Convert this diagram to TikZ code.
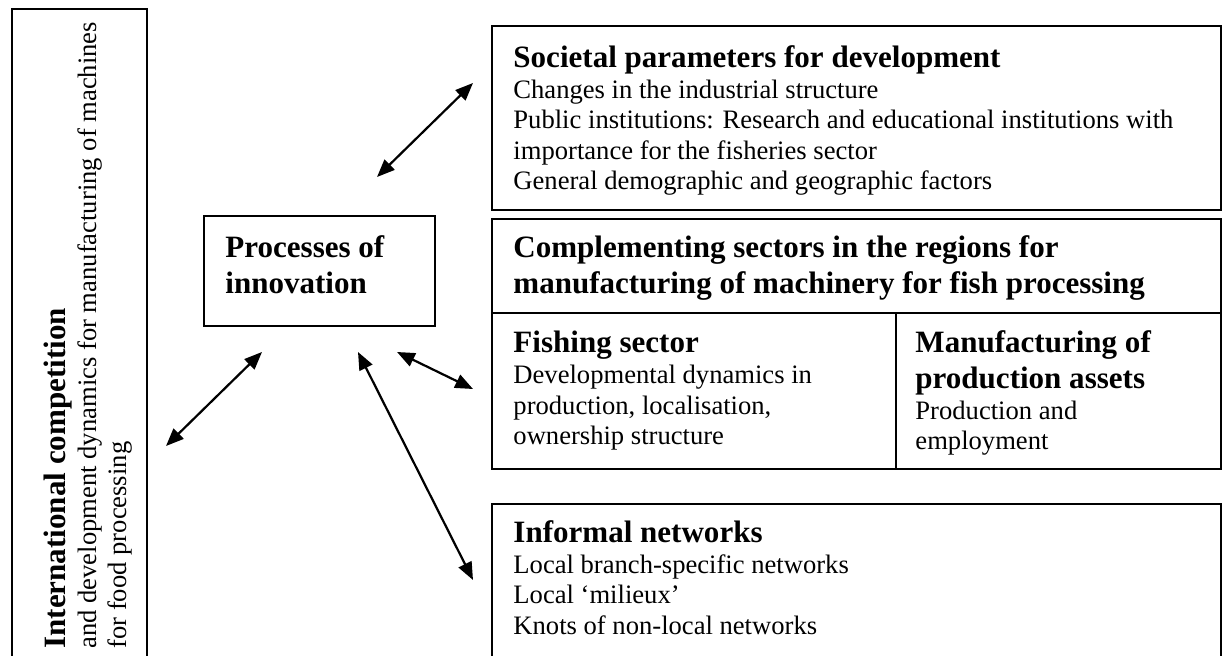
\documentclass[tikz,border=0pt]{standalone}
\usepackage{fontspec}
\setmainfont{Liberation Serif}
\usetikzlibrary{arrows.meta,fit,calc}
% invisible strut that fixes the height of a first line
\newcommand\firstline{\rule{0pt}{12pt}}
\newcommand\headfont{\fontsize{14}{16.1}\selectfont\bfseries}
\begin{document}
\begin{tikzpicture}[x=0.451pt,y=-0.451pt,
  frame/.style={draw, line width=1pt, inner sep=0pt, outer sep=0pt},
  body/.style={inner sep=0pt, anchor=north west, align=left,
    font=\fontsize{12}{13.8}\selectfont},
  headbody/.style={inner sep=0pt, anchor=north west, align=left,
    font=\fontsize{14}{16.1}\selectfont\bfseries},
  link/.style={line width=1pt,
    {Triangle[length=8pt,width=6.4pt]}-{Triangle[length=8pt,width=6.4pt]}}]
\clip (0,0) rectangle (1222,656);

% left column: international context
\node[frame, fit={(12,9) (147,700)}] (intl) {};
\node[body, rotate=90] (intlt) at (38.4,649)
  {\firstline{\headfont International competition}\\
   and development dynamics for manufacturing of machines\\
   for food processing};

% central box
\node[frame, fit={(204,216) (435,326)}] (proc) {};
\node[headbody] (proct) at ($(proc.north west)+(21,14.4)$)
  {\firstline Processes of\\ innovation};

% societal parameters
\node[frame, fit={(492,26) (1221,210)}] (soc) {};
\node[body] (soct) at ($(soc.north west)+(21,14.4)$)
  {\firstline{\headfont Societal parameters for development}\\
   Changes in the industrial structure\\
   Public institutions: Research and educational institutions with\\
   importance for the fisheries sector\\
   General demographic and geographic factors};

% complementing sectors, split into two parts below the heading
\node[frame, fit={(492,219) (1221,313)}] (comp) {};
\node[headbody] (compt) at ($(comp.north west)+(21,11.4)$)
  {\firstline Complementing sectors in the regions for\\
   manufacturing of machinery for fish processing};
\node[frame, fit={(492,313) (896,469)}] (fish) {};
\node[body] (fisht) at ($(fish.north west)+(21,12.9)$)
  {\firstline{\headfont Fishing sector}\\
   Developmental dynamics in\\
   production, localisation,\\
   ownership structure};
\node[frame, fit={(896,313) (1221,469)}] (manuf) {};
\node[body] (manuft) at ($(manuf.north west)+(19,12.9)$)
  {\firstline{\headfont Manufacturing of}\\[2.3pt]
   {\headfont production assets}\\
   Production and\\
   employment};

% informal networks
\node[frame, fit={(492,504) (1221,700)}] (inf) {};
\node[body] (inft) at ($(inf.north west)+(21,11.4)$)
  {\firstline{\headfont Informal networks}\\
   Local branch-specific networks\\
   Local `milieux'\\
   Knots of non-local networks};

% ends of the two-way connectors
\coordinate (ps) at (377,177);  \coordinate (ss) at (473,83);
\coordinate (pi) at (262,352);  \coordinate (ii) at (166,446);
\coordinate (pn) at (358,352);  \coordinate (nn) at (473,580);
\coordinate (pf) at (397,352);  \coordinate (ff) at (473,389);

\draw[link] (ps) -- (ss);
\draw[link] (pi) -- (ii);
\draw[link] (pn) -- (nn);
\draw[link] (pf) -- (ff);
\end{tikzpicture}
\end{document}
